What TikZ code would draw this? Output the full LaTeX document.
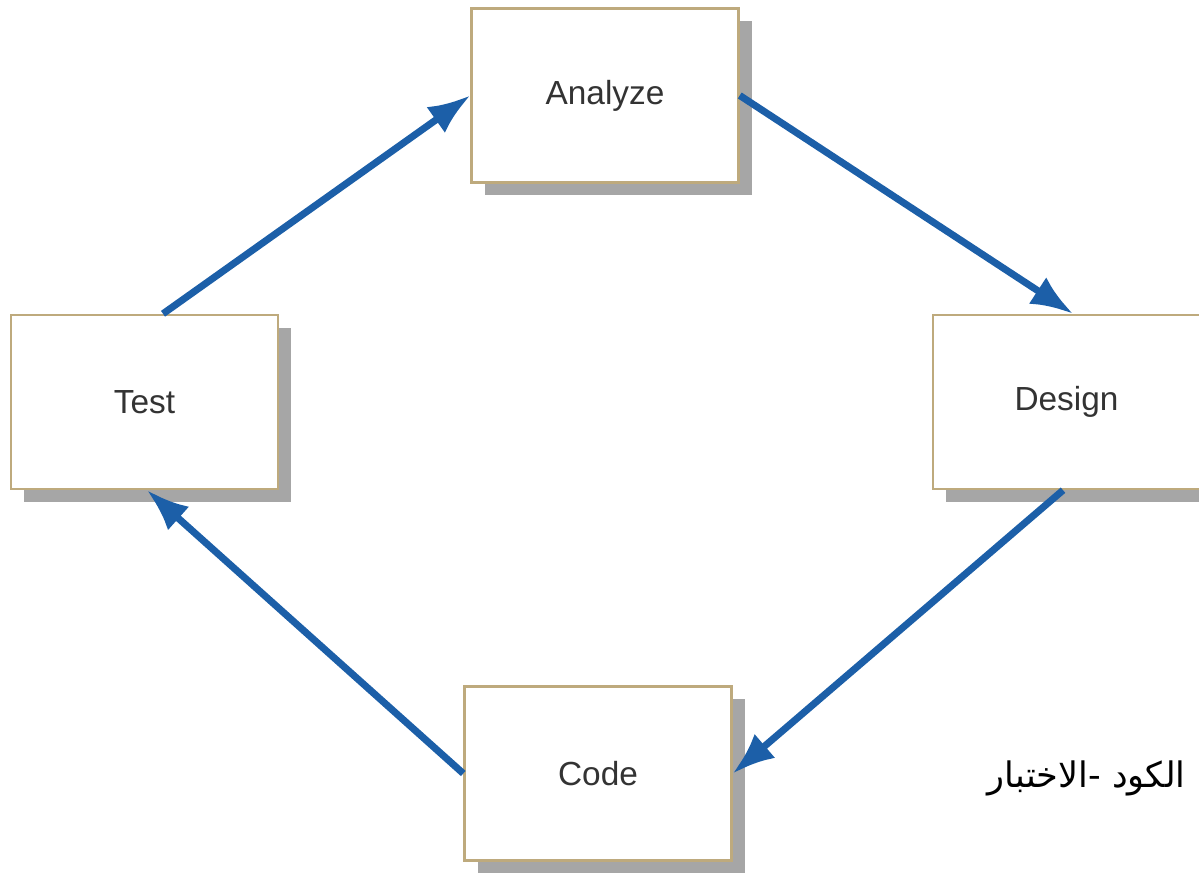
\documentclass[tikz,border=0pt]{standalone}
\usepackage{fontspec}
\setmainfont{Liberation Sans}
\newfontfamily\arabicfont[Script=Arabic]{DejaVu Sans}
\TeXXeTstate=1
\usetikzlibrary{arrows.meta,shadows}
\definecolor{boxline}{RGB}{190,170,125}
\definecolor{arrowblue}{RGB}{28,95,168}
\tikzset{
	stage/.style={draw=boxline, line width=.7pt, fill=white, minimum width=2.67cm, minimum height=1.74cm, inner sep=0pt, text=black!80, font=\fontsize{9.5}{11}\selectfont, drop shadow={shadow xshift=.13cm, shadow yshift=-.13cm, fill=black!35, opacity=1}},
	flow/.style={draw=arrowblue, line width=2pt, -{Latex[length=12pt,width=9pt]}}
}
\begin{document}
\begin{tikzpicture}
		\useasboundingbox (0,0) rectangle (11.99,8.73);
		\clip (0,0) rectangle (11.99,8.73);
		\node[stage] (analyze) at (6.05,7.775) {Analyze};
		\node[stage] (test) at (1.445,4.71) {Test};
		\node[stage] (design) at (10.665,4.71) {Design};
		\node[stage] (code) at (5.98,0.995) {Code};
		\draw[flow] ([xshift=.185cm]test.north) -- (analyze.west);
		\draw[flow] (analyze.east) -- ([xshift=.065cm]design.north);
		\draw[flow] ([xshift=-.035cm]design.south) -- (code.east);
		\draw[flow] (code.west) -- ([xshift=.025cm]test.south);
		\node[anchor=base west, inner sep=0pt, font=\arabicfont\fontsize{10}{12}\selectfont] (note) at (9.87,0.85) {\beginR الكود -الاختبار\endR};
	    \end{tikzpicture}
\end{document}
